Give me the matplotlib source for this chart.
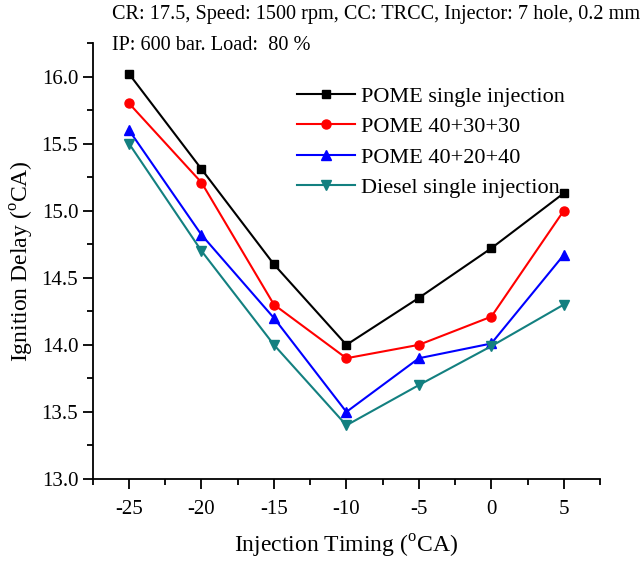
import matplotlib
matplotlib.use('Agg')
import matplotlib.pyplot as plt
from matplotlib.ticker import MultipleLocator

plt.rcParams['font.family'] = ['Liberation Serif', 'DejaVu Serif']
plt.rcParams['mathtext.fontset'] = 'custom'
plt.rcParams['mathtext.rm'] = 'Liberation Serif'
plt.rcParams['axes.unicode_minus'] = False

timing = [-25, -20, -15, -10, -5, 0, 5]
pome_single = [16.02, 15.31, 14.60, 14.00, 14.35, 14.72, 15.13]
pome_403030 = [15.80, 15.21, 14.30, 13.90, 14.00, 14.21, 15.00]
pome_402040 = [15.60, 14.82, 14.20, 13.50, 13.90, 14.01, 14.67]
diesel_single = [15.50, 14.70, 14.00, 13.40, 13.70, 13.99, 14.30]

fig = plt.figure(figsize=(6.4, 5.62), dpi=100)
ax = fig.add_axes([0.145, 0.1477, 0.7925, 0.7758])

ax.plot(timing, pome_single, color='black', marker='s', ms=6, lw=1.5, label='POME single injection')
ax.plot(timing, pome_403030, color='red', marker='o', ms=6.5, lw=1.5, label='POME 40+30+30')
ax.plot(timing, pome_402040, color='blue', marker='^', ms=7, lw=1.5, label='POME 40+20+40')
ax.plot(timing, diesel_single, color='#138080', marker='v', ms=7, lw=1.5, label='Diesel single injection')

ax.set_xlim(-27.5, 7.5)
ax.set_ylim(13.0, 16.25)
ax.xaxis.set_major_locator(MultipleLocator(5))
ax.xaxis.set_minor_locator(MultipleLocator(2.5))
ax.yaxis.set_major_locator(MultipleLocator(0.5))
ax.yaxis.set_minor_locator(MultipleLocator(0.25))
ax.yaxis.set_major_formatter(matplotlib.ticker.FormatStrFormatter('%.1f'))

for s in ['top', 'right']:
    ax.spines[s].set_visible(False)
for s in ['left', 'bottom']:
    ax.spines[s].set_linewidth(1.3)
ax.tick_params(which='major', direction='out', length=7, width=1.3, labelsize=15)
ax.tick_params(which='minor', direction='out', length=4, width=1.3)
ax.tick_params(axis='x', pad=8)

ax.set_xlabel(r'Injection Timing ($^{\rm o}$CA)', fontsize=17, labelpad=10)
ax.set_ylabel(r'Ignition Delay ($^{\rm o}$CA)', fontsize=17, labelpad=4)

fig.text(112/640, 1 - 14/562, 'CR: 17.5, Speed: 1500 rpm, CC: TRCC, Injector: 7 hole, 0.2 mm',
         fontsize=14.6, va='center', ha='left')
fig.text(112/640, 1 - 45/562, 'IP: 600 bar. Load:  80 %', fontsize=14.6, va='center', ha='left')

ax.legend(loc='upper left', bbox_to_anchor=(297/640, 1 - 86/562), bbox_transform=fig.transFigure,
          frameon=False, fontsize=16, handlelength=2.6, handletextpad=0.3, labelspacing=0.45,
          borderaxespad=0, borderpad=0)

fig.savefig('out.png', dpi=100)
